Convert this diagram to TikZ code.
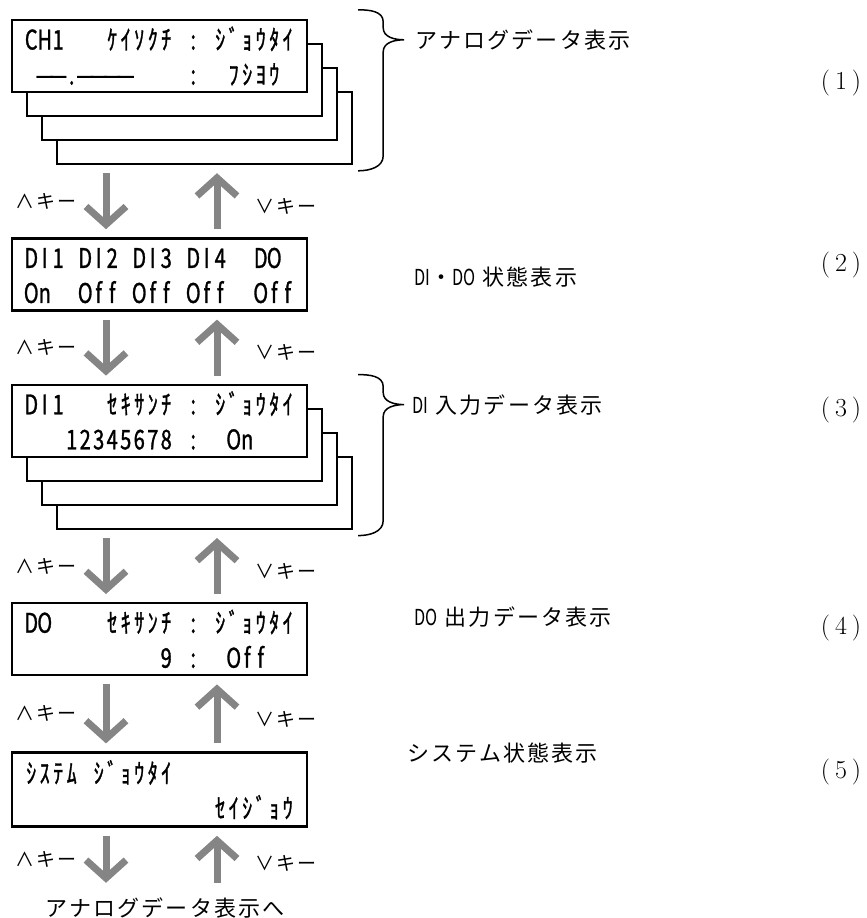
\documentclass[tikz,border=0pt]{standalone}
\usepackage{fontspec}
\usetikzlibrary{positioning, arrows.meta, backgrounds}
\newfontfamily\lcdfont[FakeStretch=0.74, FakeBold=1.1]{Noto Sans CJK JP}
\newfontfamily\narrowfont[FakeStretch=0.74]{Noto Sans CJK JP}
\newfontfamily\descfont[LetterSpace=10]{Noto Sans CJK JP}

\ExplSyntaxOn
% one character per cell, like the panel display
\NewDocumentCommand{\lcdrow}{m}{\tl_map_inline:nn{#1}{\makebox[13.5pt]{##1}}}
\ExplSyntaxOff
\newcommand{\lcdlines}[2]{\vbox to 72pt{\offinterlineskip\vskip 29.5pt\hbox{\smash{\lcdrow{#1}}}\vskip 35pt\hbox{\smash{\lcdrow{#2}}}\vfill}}

\tikzset{
    lcdbox/.style={draw, line width=2.4pt, fill=white, minimum width=295pt, minimum height=72pt, inner sep=0pt, font=\lcdfont\fontsize{27}{27}\selectfont}, % one display screen
    keyarrow/.style={draw=black!48, line width=7pt, -{Straight Barb[length=18pt,width=40pt]}, shorten <=8pt, shorten >=8pt},
    keylbl/.style={inner sep=0pt, font=\descfont\fontsize{19}{19}\selectfont},
    desc/.style={anchor=west, inner sep=0pt, font=\descfont\fontsize{22}{22}\selectfont},
    brace/.style={line width=1.5pt},
    stepno/.style={inner sep=0pt, font=\fontsize{26}{26}\selectfont},
}

\begin{document}
\begin{tikzpicture}
    \useasboundingbox (0,0) rectangle (867pt,-918pt);

    % screens
    \node[lcdbox] (ch) at (159.5pt,-56pt) {\lcdlines{CH1~~~ｹｲｿｸﾁ~:~ｼﾞｮｳﾀｲ}{~——.————~~~~:~~ﾌｼﾖｳ}};
    \node[lcdbox, below=144pt of ch] (dio) {\lcdlines{DI1~DI2~DI3~DI4~~DO}{On~~Off~Off~Off~~Off}};
    \node[lcdbox, below=72pt of dio] (di) {\lcdlines{DI1~~~ｾｷｻﾝﾁ~:~ｼﾞｮｳﾀｲ}{~~~12345678~:~~On}};
    \node[lcdbox, below=144pt of di] (do) {\lcdlines{DO~~~~ｾｷｻﾝﾁ~:~ｼﾞｮｳﾀｲ}{~~~~~~~~~~9~:~~Off}};
    \node[lcdbox, minimum height=74pt, below=75pt of do] (sys) {\lcdlines{ｼｽﾃﾑ~ｼﾞｮｳﾀｲ}{~~~~~~~~~~~~~~ｾｲｼﾞｮｳ}};
    \node[desc, anchor=base, text height=17pt, text depth=4pt, inner sep=8pt] (back) at (165pt,-916pt) {アナログデータ表示へ};

    % stacked screens behind
    \begin{scope}[on background layer]
        \foreach \f in {ch, di}
            \foreach \k in {3,2,1}
                \node[lcdbox] (\f bk\k) at ([shift={(15pt*\k,-24pt*\k)}]\f.center) {};
    \end{scope}

    % key arrows
    \coordinate (dn) at ([xshift=-53.5pt]ch.center);
    \coordinate (up) at ([xshift=57.5pt]ch.center);
    \foreach \a/\b in {chbk3/dio, dio/di, dibk3/do, do/sys, sys/back} {
        \draw[keyarrow] (dn |- \a.south) -- node[keylbl, pos=.5, left=26pt] {∧キー} (dn |- \b.north);
        \draw[keyarrow] (up |- \b.north) -- node[keylbl, pos=.43, right=35pt] {∨キー} (up |- \a.south);
    }

    % braces
    \foreach \f in {ch, di}
        \draw[brace] (\f bk3.east |- \f.north) ++(5pt,9pt)
            to[out=0,in=90] ++(25pt,-12pt) -- ++(0,-6pt)
            to[out=-90,in=180] ++(21pt,-12pt) coordinate (\f-tip)
            to[out=180,in=90] ++(-21pt,-12pt) -- ++(0,-104pt)
            to[out=-90,in=0] ++(-25pt,-15pt);

    % descriptions
    \node[desc, right=11pt of ch-tip] (chdesc) {アナログデータ表示};
    \node[desc] (diodesc) at (414pt,-277pt) {{\narrowfont DI}・{\narrowfont DO} 状態表示};
    \node[desc, right=8pt of di-tip] (didesc) {{\narrowfont DI} 入力データ表示};
    \node[desc] (dodesc) at (414pt,-617pt) {{\narrowfont DO} 出力データ表示};
    \node[desc] (sysdesc) at (407pt,-753pt) {システム状態表示};

    \foreach \n/\y in {1/83, 2/265, 3/410, 4/628, 5/772}
        \node[stepno] (step\n) at (841pt,-\y pt) {(\kern5pt\n\kern5pt)};
\end{tikzpicture}
\end{document}
